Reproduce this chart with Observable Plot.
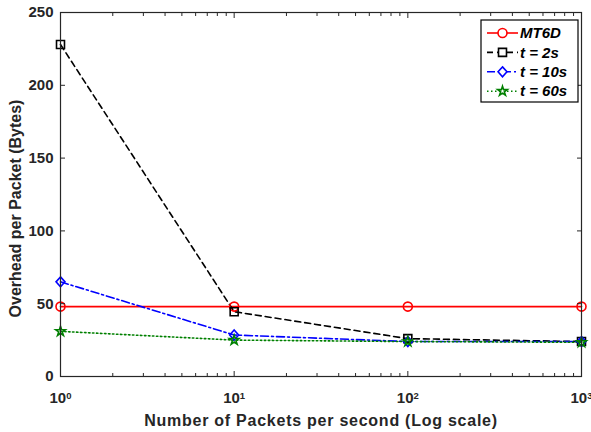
<!DOCTYPE html>
<html><head><meta charset="utf-8">
<script src="https://cdn.jsdelivr.net/npm/d3@7"></script>
<script src="https://cdn.jsdelivr.net/npm/@observablehq/plot@0.6"></script>
<style>
body{margin:0;background:#fff;}
svg{font-family:"Liberation Sans",Arial,Helvetica,sans-serif;font-weight:bold;}
</style>
</head><body><div id="chart"></div>
<script>
// ---- data ----
const rates = [1, 10, 100, 1000];
const mt6d = [48, 48, 48, 48];
const t2s = [228, 44.5, 26, 24];
const t10s = [65, 28.5, 24, 24];
const t60s = [31, 25, 24, 23.5];
const seriesNames = ["MT6D", "t = 2s", "t = 10s", "t = 60s"];
const yTicks = [0, 50, 100, 150, 200, 250];
const xTicks = [1, 10, 100, 1000];
const xMinorTicks = [2,3,4,5,6,7,8,9,20,30,40,50,60,70,80,90,200,300,400,500,600,700,800,900];
const xLabel = "Number of Packets per second (Log scale)";
const yLabel = "Overhead per Packet (Bytes)";

// ---- styles ----
const colors = ["#ff0000", "#000000", "#0000ff", "#008000"];
const dashes = [null, "6,4", "8,3,2,3", "1.5,2.5"];
// MATLAB-like diamond: equal width and height
const symbolDiamondSq = {
  draw(context, size) {
    const h = Math.sqrt(size / Math.PI) * 1.1, w = h * 0.9;
    context.moveTo(0, -h); context.lineTo(w, 0); context.lineTo(0, h); context.lineTo(-w, 0); context.closePath();
  }
};
const symbols = [d3.symbolCircle, d3.symbolSquare, symbolDiamondSq, d3.symbolStar];
const radii = [4.5, 4.5, 4.5, 3];
const allValues = [mt6d, t2s, t10s, t60s];

const series = allValues.map((vals, s) => rates.map((r, i) => ({x: r, y: vals[i], name: seriesNames[s]})));

const axisColor = "#262626";
const marks = [];
series.forEach((data, s) => {
  marks.push(Plot.line(data, {x: "x", y: "y", stroke: colors[s], strokeWidth: 1.6, strokeDasharray: dashes[s]}));
});
series.forEach((data, s) => {
  marks.push(Plot.dot(data, {x: "x", y: "y", symbol: symbols[s], stroke: colors[s], fill: "none", r: radii[s], strokeWidth: 1.6}));
});

const plot = Plot.plot({
  width: 591, height: 432,
  marginLeft: 60, marginRight: 10, marginTop: 12, marginBottom: 56,
  style: {background: "#fff", color: axisColor, fontSize: "15px", fontWeight: "bold", fontFamily: '"Liberation Sans", Arial, sans-serif'},
  x: {type: "log", domain: [1, 1000], axis: null},
  y: {domain: [0, 250], axis: null},
  marks: [
    ...marks,
    Plot.frame({stroke: axisColor, strokeWidth: 1.2}),
    // inward ticks
    Plot.axisY(yTicks, {anchor: "left", tickSize: -5, fill: "none", label: null, stroke: axisColor}),
    Plot.axisY(yTicks, {anchor: "right", tickSize: -5, fill: "none", label: null, stroke: axisColor}),
    Plot.axisX(xTicks, {anchor: "bottom", tickSize: -5, fill: "none", label: null, stroke: axisColor}),
    Plot.axisX(xTicks, {anchor: "top", tickSize: -5, fill: "none", label: null, stroke: axisColor}),
    Plot.axisX(xMinorTicks, {anchor: "bottom", tickSize: -3, fill: "none", label: null, stroke: axisColor}),
    Plot.axisX(xMinorTicks, {anchor: "top", tickSize: -3, fill: "none", label: null, stroke: axisColor}),
    // tick labels
    Plot.axisY(yTicks, {anchor: "left", tickSize: 0, tickPadding: 7, label: null, fill: axisColor, fontSize: 15}),
    Plot.axisX(xTicks, {anchor: "bottom", tickSize: 0, tickPadding: 16, label: null, fill: axisColor, fontSize: 15,
      tickFormat: d => "10^" + Math.round(Math.log10(d))}),
    // axis titles
    Plot.text([xLabel], {text: d => d, frameAnchor: "bottom", dy: 38, lineAnchor: "top", textAnchor: "middle", fill: axisColor, fontSize: 16, fontWeight: "bold", ariaLabel: () => "x-title"}),
    Plot.text([yLabel], {text: d => d, frameAnchor: "left", dx: -45, dy: 14, rotate: -90, textAnchor: "middle", lineAnchor: "middle", fill: axisColor, fontSize: 16, fontWeight: "bold", ariaLabel: () => "y-title"})
  ]
});

d3.select(plot).selectAll('[aria-label="x-title"]').each(function() {
  const el = this.tagName.toLowerCase() === "text" ? d3.select(this) : d3.select(this).selectAll("text");
  el.style("letter-spacing", "0.75px");
});

// superscript exponents on x tick labels
d3.select(plot).selectAll('g[aria-label="x-axis tick label"] text').each(function() {
  const t = d3.select(this);
  const parts = t.text().split("^");
  if (parts.length !== 2) return;
  t.text(null);
  t.append("tspan").text(parts[0]);
  t.append("tspan").attr("dy", "-0.45em").attr("font-size", "9.5px").text(parts[1]);
});

// legend (box in upper right)
const lg = d3.select(plot).append("g").attr("transform", "translate(481,20)");
lg.append("rect").attr("width", 97).attr("height", 82).attr("fill", "#fff").attr("stroke", "#000").attr("stroke-width", 1.2);
seriesNames.forEach((name, s) => {
  const y = 13 + s * 19.4;
  lg.append("line").attr("x1", 6).attr("x2", 37).attr("y1", y).attr("y2", y)
    .attr("stroke", colors[s]).attr("stroke-width", 1.6).attr("stroke-dasharray", dashes[s]);
  lg.append("path").attr("d", d3.symbol(symbols[s], Math.PI * radii[s] * radii[s])()).attr("transform", `translate(21.5,${y})`)
    .attr("fill", "#fff").attr("stroke", colors[s]).attr("stroke-width", 1.6);
  lg.append("text").attr("x", 39).attr("y", y).attr("dy", "0.35em").attr("font-size", 15)
    .attr("text-anchor", "start").attr("font-style", "italic").attr("font-weight", "bold").attr("fill", "#000").text(name);
});

document.getElementById("chart").appendChild(plot);
</script>
</body></html>
